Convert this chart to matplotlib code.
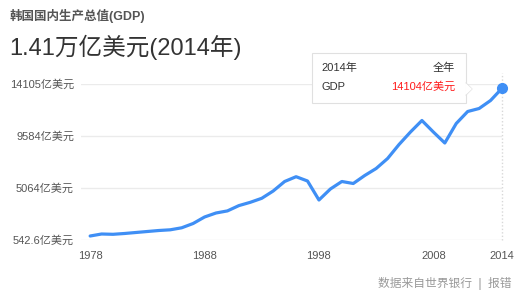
import matplotlib
matplotlib.use("Agg")
import matplotlib.pyplot as plt
from matplotlib.patches import FancyBboxPatch, Polygon
from matplotlib.lines import Line2D

plt.rcParams["font.family"] = ["Liberation Sans", "Noto Sans CJK SC", "DejaVu Sans"]

years = list(range(1978, 2015))
gdp = [890, 1064, 1038, 1108, 1195, 1282, 1368, 1429, 1603, 1977,
       2542, 2890, 3072, 3533, 3820, 4168, 4803, 5629, 6046, 5672,
       4020, 4977, 5629, 5455, 6150, 6759, 7628, 8845, 9932, 10932,
       9932, 8976, 10671, 11714, 11975, 12671, 13731]
y_ticks = [542.6, 5064, 9584, 14105]
y_labels = ["542.6亿美元", "5064亿美元", "9584亿美元", "14105亿美元"]
x_ticks = [1978, 1988, 1998, 2008, 2014]

blue = "#3f8ff5"

fig = plt.figure(figsize=(5.21, 3.0), dpi=100)
ax = fig.add_axes([81 / 521, 0.2, 421 / 521, 0.52])

ax.plot(years, gdp, color=blue, lw=2.3, solid_capstyle="round", zorder=3)
ax.plot(years[-1], gdp[-1], "o", color=blue, ms=7, clip_on=False, zorder=4)
ax.axvline(2014, ymin=0, ymax=1.07, color="#d8d8d8", lw=1, ls=(0, (1, 1.5)),
           clip_on=False, zorder=1)

ax.set_xlim(1977.2, 2014)
ax.set_ylim(y_ticks[0], y_ticks[-1])
ax.set_yticks(y_ticks)
ax.set_yticklabels(y_labels)
ax.set_xticks(x_ticks)
ax.set_xticklabels([str(x) for x in x_ticks])
ax.tick_params(axis="both", length=0, labelsize=8, labelcolor="#555555")
ax.tick_params(axis="y", pad=5)
ax.tick_params(axis="x", pad=8)
ax.grid(axis="y", color="#ebebeb", lw=1)
ax.set_axisbelow(True)
for s in ax.spines.values():
    s.set_visible(False)

# titles
fig.text(10 / 521, 1 - 16 / 300, "韩国国内生产总值(GDP)", fontsize=9, fontweight="bold",
         color="#555555", va="center")
fig.text(9 / 521, 1 - 47 / 300, "1.41万亿美元(2014年)", fontsize=17,
         color="#333333", va="center")

# tooltip
box = FancyBboxPatch((312 / 521, 1 - 103 / 300), 154 / 521, 50 / 300,
                     boxstyle="square,pad=0", transform=fig.transFigure,
                     facecolor="white", edgecolor="#e0e0e0", lw=0.8, zorder=5)
fig.patches.append(box)
tri = Polygon([(465.5 / 521, 1 - 83 / 300), (472 / 521, 1 - 89 / 300), (465.5 / 521, 1 - 95 / 300)],
              closed=True, transform=fig.transFigure, facecolor="white",
              edgecolor="none", zorder=6)
fig.patches.append(tri)
fig.lines.append(Line2D([466 / 521, 472 / 521, 466 / 521],
                        [1 - 83 / 300, 1 - 89 / 300, 1 - 95 / 300],
                        transform=fig.transFigure, color="#e0e0e0", lw=0.8, zorder=6))
fig.text(321 / 521, 1 - 68 / 300, "2014年", fontsize=8, color="#333333", va="center", zorder=7)
fig.text(455 / 521, 1 - 68 / 300, "全年", fontsize=8, color="#333333", va="center",
         ha="right", zorder=7)
fig.text(321 / 521, 1 - 87 / 300, "GDP", fontsize=8, color="#333333", va="center", zorder=7)
fig.text(455 / 521, 1 - 87 / 300, "14104亿美元", fontsize=8, color="#ff1a1a", va="center",
         ha="right", zorder=7)

# source
fig.text(511 / 521, 1 - 283 / 300, "数据来自世界银行  |  报错", fontsize=8.5,
         color="#999999", va="center", ha="right")

fig.savefig("out.png", dpi=100)
